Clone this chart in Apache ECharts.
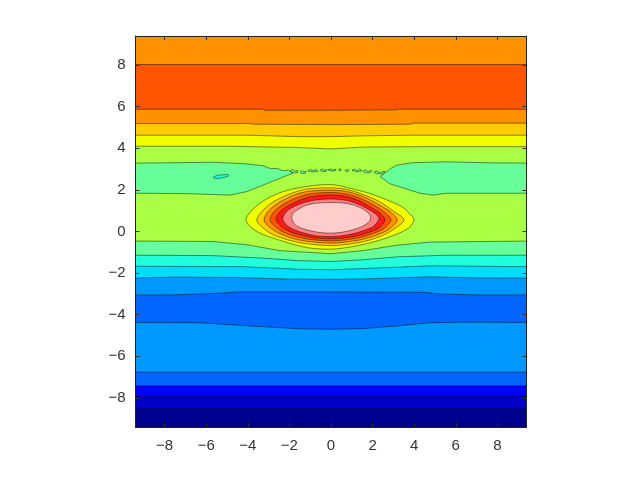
<!DOCTYPE html>
<html lang="en">
<head>
<meta charset="UTF-8">
<title>Contour</title>
<script src="https://cdn.jsdelivr.net/npm/echarts@6/dist/echarts.min.js"></script>
<style>html,body{margin:0;background:#fff}</style>
</head>
<body>
<div id="chart" style="width:640px;height:480px"></div>
<script>
var axisMax = 9.4;
var xTicks = [-8, -6, -4, -2, 0, 2, 4, 6, 8];
var yTicks = [-8, -6, -4, -2, 0, 2, 4, 6, 8];

// contour lines that cross the whole plot, bottom to top, as [x, y]
var edge1 = [[-9.4, -8.53], [9.4, -8.53]];
var edge2 = [[-9.4, -7.94], [9.4, -7.94]];
var edge3 = [[-9.4, -7.42], [9.4, -7.42]];
var edge4 = [[-9.4, -6.76], [9.4, -6.76]];
var edge5 = [[-9.4, -4.38], [-6.3, -4.39], [-3.89, -4.54], [-1.49, -4.68], [0, -4.7], [1.54, -4.67], [3.17, -4.54], [4.76, -4.39], [6.35, -4.36], [9.4, -4.37]];
var edge6 = [[-9.4, -3.05], [-7.6, -3.05], [-5.19, -2.96], [-4.52, -2.9], [0, -2.9], [4.42, -2.92], [5.24, -3], [7.02, -3.05], [9.4, -3.05]];
var edge7 = [[-9.4, -2.24], [-7.6, -2.19], [-4.71, -2.21], [-1.83, -2.29], [0, -2.3], [1.54, -2.28], [4.76, -2.18], [7.02, -2.23], [9.4, -2.24]];
var edge8 = [[-9.4, -1.67], [-4.23, -1.69], [-1.63, -1.81], [0, -1.84], [1.54, -1.78], [4.76, -1.65], [9.4, -1.69]];
var edge9 = [[-9.4, -1.14], [-5.67, -1.16], [-3.27, -1.28], [-1.63, -1.4], [0, -1.44], [1.54, -1.36], [3.17, -1.22], [5.58, -1.14], [9.4, -1.14]];
var edge10 = [[-9.4, -0.46], [-5.67, -0.48], [-4.03, -0.64], [-2.45, -0.92], [0, -1.07], [1.54, -0.92], [3.17, -0.66], [4.76, -0.51], [9.4, -0.46]];
var edge11 = [[-9.4, 4.1], [-4.86, 4.1], [-1.63, 4.04], [0, 3.97], [1.54, 4.06], [4.42, 4.08], [9.4, 4.08]];
var edge12 = [[-9.4, 4.63], [-4.04, 4.63], [-1.49, 4.56], [0, 4.56], [1.54, 4.6], [3.82, 4.63], [9.4, 4.63]];
var edge13 = [[-9.4, 5.19], [-3.89, 5.19], [-3.73, 5.16], [0, 5.14], [3.82, 5.16], [3.94, 5.21], [9.4, 5.21]];
var edge14 = [[-9.4, 5.88], [-3.27, 5.88], [-3.17, 5.83], [0, 5.83], [3.17, 5.85], [3.22, 5.88], [9.4, 5.88]];
var edge15 = [[-9.4, 8.03], [9.4, 8.03]];
var baseEdge = [[-9.4, -9.4], [9.4, -9.4]];

var bandEdges = [baseEdge, edge1, edge2, edge3, edge4, edge5, edge6, edge7, edge8, edge9, edge10, edge11, edge12, edge13, edge14, edge15];
var bandColors = ['#00008f', '#0000c8', '#0000ff', '#0066ff', '#0099ff', '#0066ff', '#0099ff', '#00ddff', '#22ffdd', '#66ff99', '#aaff44', '#f0ff00', '#ffcc00', '#ff9100', '#ff5500', '#ff9100'];

// closed regions
var greenLeft = [[-9.4, 3.29], [-8.08, 3.3], [-5.67, 3.33], [-4.04, 3.25], [-3.27, 3.16], [-2.9, 3.02], [-2.6, 3.04], [-2.3, 2.92], [-2.05, 2.95], [-1.83, 2.81], [-4.04, 1.92], [-4.86, 1.75], [-5.67, 1.78], [-6.92, 1.82], [-9.4, 1.84]];
var greenRight = [[2.69, 2.88], [2.85, 3.02], [3.17, 3.19], [3.94, 3.31], [5.58, 3.35], [7.64, 3.3], [9.4, 3.29], [9.4, 1.84], [5.58, 1.84], [4.9, 1.75], [4.28, 1.84], [2.84, 2.29], [2.36, 2.64]];
var specks = [
  [[-1.97, 2.9], [-1.85, 2.98], [-1.72, 2.9], [-1.62, 2.95], [-1.59, 2.84], [-1.8, 2.82]],
  [[-1.49, 2.85], [-1.4, 2.93], [-1.3, 2.86], [-1.2, 2.9], [-1.25, 2.79], [-1.42, 2.8]],
  [[-1.11, 2.92], [-0.98, 2.98], [-0.85, 2.92], [-0.72, 2.98], [-0.63, 2.9], [-0.88, 2.86]],
  [[-0.53, 2.94], [-0.42, 3], [-0.3, 2.94], [-0.19, 2.98], [-0.25, 2.89], [-0.45, 2.89]],
  [[-0.14, 2.96], [0, 3.01], [0.12, 2.95], [0.24, 3], [0.2, 2.91], [0, 2.91]],
  [[0.38, 2.94], [0.48, 2.94], [0.48, 3], [0.38, 3]],
  [[0.67, 2.92], [0.77, 2.99], [0.87, 2.93], [0.78, 2.88]],
  [[1.01, 2.94], [1.14, 3], [1.25, 2.93], [1.38, 3], [1.49, 2.92], [1.25, 2.87]],
  [[1.54, 2.9], [1.66, 2.96], [1.77, 2.89], [1.97, 2.93], [1.86, 2.82], [1.62, 2.83]],
  [[2.07, 2.85], [2.2, 2.92], [2.33, 2.83], [2.6, 2.9], [2.5, 2.77], [2.2, 2.78]]
];
var island = [[-5.66, 2.62], [-5.45, 2.71], [-4.95, 2.74], [-4.93, 2.66], [-5.3, 2.56], [-5.6, 2.55]];

// rings round the central peak, outer to inner
var ringYellow = [[-4.09, 0.56], [-3.93, 0.88], [-3.62, 1.2], [-3.17, 1.52], [-2.53, 1.84], [-1.65, 2.08], [-0.53, 2.24], [0.2, 2.24], [0.91, 2.08], [1.83, 1.84], [2.68, 1.52], [3.4, 1.2], [3.76, 0.88], [3.99, 0.56], [3.75, 0.18], [3.08, -0.16], [2.12, -0.48], [1.07, -0.72], [0, -0.85], [-1.17, -0.77], [-2.53, -0.4], [-3.41, -0.08], [-3.89, 0.24]];
var ringGold = [[-3.57, 0.56], [-3.09, 1.2], [-2.45, 1.6], [-1.81, 1.87], [-1.17, 2.04], [0, 2.1], [0.75, 2.02], [1.55, 1.78], [2.36, 1.42], [3, 0.98], [3.51, 0.56], [3, 0.1], [2.36, -0.24], [1.55, -0.49], [0.75, -0.62], [0, -0.68], [-1.17, -0.59], [-1.97, -0.43], [-2.77, -0.16], [-3.25, 0.16]];
var ringOrange = [[-3.22, 0.56], [-2.95, 1.05], [-2.4, 1.45], [-1.75, 1.76], [-1.1, 1.93], [0, 1.99], [0.75, 1.92], [1.5, 1.7], [2.2, 1.35], [2.85, 0.95], [3.19, 0.56], [2.8, 0.12], [2.2, -0.17], [1.5, -0.38], [0.75, -0.5], [0, -0.56], [-1.1, -0.48], [-1.85, -0.33], [-2.5, -0.08], [-2.95, 0.2]];
var ringDeep = [[-2.93, 0.56], [-2.7, 1], [-2.2, 1.36], [-1.6, 1.64], [-1, 1.81], [0, 1.87], [0.75, 1.8], [1.4, 1.6], [2.05, 1.27], [2.6, 0.9], [2.88, 0.56], [2.55, 0.15], [2, -0.1], [1.4, -0.29], [0.7, -0.4], [0, -0.45], [-1, -0.38], [-1.7, -0.24], [-2.3, -0.02], [-2.7, 0.25]];
var ringRed = [[-2.64, 0.58], [-2.42, 0.98], [-1.95, 1.3], [-1.4, 1.54], [-0.85, 1.69], [0, 1.75], [0.7, 1.69], [1.3, 1.5], [1.85, 1.2], [2.35, 0.88], [2.6, 0.56], [2.3, 0.17], [1.8, -0.05], [1.25, -0.21], [0.65, -0.31], [0, -0.35], [-0.9, -0.29], [-1.55, -0.15], [-2.1, 0.05], [-2.42, 0.28]];
var ringSalmon = [[-2.32, 0.62], [-2.12, 0.98], [-1.7, 1.24], [-1.2, 1.42], [-0.7, 1.52], [0, 1.56], [0.65, 1.51], [1.2, 1.36], [1.7, 1.12], [2.1, 0.88], [2.31, 0.62], [2.05, 0.25], [1.6, 0.06], [1.1, -0.1], [0.55, -0.2], [0, -0.24], [-0.75, -0.2], [-1.35, -0.06], [-1.85, 0.12], [-2.15, 0.32]];
var ringPink = [[-1.89, 0.66], [-1.82, 0.88], [-1.49, 1.12], [-1.17, 1.27], [-0.6, 1.37], [0, 1.39], [0.6, 1.37], [1.1, 1.27], [1.5, 1.1], [1.8, 0.88], [1.91, 0.66], [1.78, 0.42], [1.45, 0.22], [1.05, 0.08], [0.5, -0.04], [0, -0.08], [-0.53, -0.05], [-1.17, 0.08], [-1.65, 0.27], [-1.82, 0.46]];

var ringShapes = [ringYellow, ringGold, ringOrange, ringDeep, ringRed, ringSalmon, ringPink];
var ringColors = ['#f0ff00', '#ffcc00', '#ff9100', '#ff5500', '#ff1a1a', '#ff8080', '#ffcccc'];

var layers = [];
bandEdges.forEach(function (e, i) {
  layers.push({ points: e.concat([[axisMax, axisMax], [-axisMax, axisMax]]), fill: bandColors[i] });
});
layers.push({ points: greenLeft, fill: '#66ff99' });
layers.push({ points: greenRight, fill: '#66ff99' });
specks.forEach(function (s) { layers.push({ points: s, fill: '#66ff99' }); });
layers.push({ points: island, fill: '#22ffdd' });
ringShapes.forEach(function (r, i) {
  layers.push({ points: r, fill: ringColors[i], smooth: 0.3 });
});

var chart = echarts.init(document.getElementById('chart'), null, { renderer: 'canvas' });

function tickText(v) {
  return String(v).replace('-', '\u2212');
}

function plotAxis(position, ticks, labelled) {
  return {
    type: 'value',
    position: position,
    min: -axisMax,
    max: axisMax,
    z: 5,
    splitLine: { show: false },
    axisLine: { show: true, onZero: false, lineStyle: { color: '#222', width: 1 } },
    axisTick: { show: true, inside: true, length: 4, customValues: ticks, lineStyle: { color: '#333', width: 1 } },
    axisLabel: {
      show: labelled,
      customValues: ticks,
      formatter: tickText,
      margin: position === 'bottom' ? 11 : 10,
      padding: position === 'left' ? [5, 0, 0, 0] : 0,
      color: '#333',
      fontFamily: 'Liberation Sans',
      fontSize: 15
    }
  };
}

chart.setOption({
  animation: false,
  grid: { left: 135.5, right: 113.5, top: 36, bottom: 53, containLabel: false },
  xAxis: [plotAxis('bottom', xTicks, true), plotAxis('top', xTicks, false)],
  yAxis: [plotAxis('left', yTicks, true), plotAxis('right', yTicks, false)],
  series: [{
    type: 'custom',
    silent: true,
    clip: true,
    data: layers.map(function (l, i) { return [i, 0]; }),
    renderItem: function (params, api) {
      var layer = layers[api.value(0)];
      return {
        type: 'polygon',
        shape: { points: layer.points.map(function (p) { return api.coord(p); }), smooth: layer.smooth || 0 },
        style: { fill: layer.fill, stroke: 'rgba(0,0,0,0.65)', lineWidth: 0.7 }
      };
    }
  }]
});
</script>
</body>
</html>
